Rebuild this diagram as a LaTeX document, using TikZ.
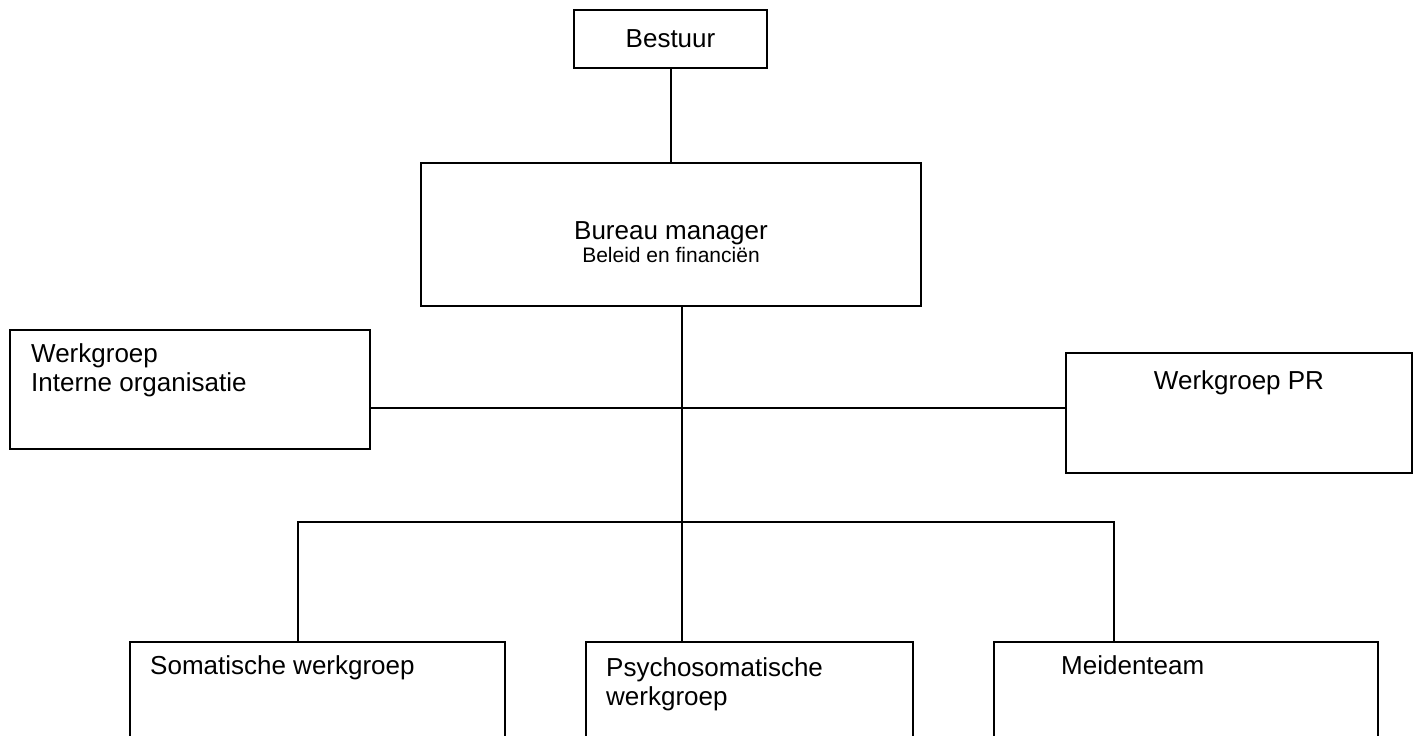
\documentclass[tikz,border=0pt]{standalone}
\usepackage{fontspec}
\setmainfont{Liberation Sans}
\usetikzlibrary{positioning}
\tikzstyle{unit} = [rectangle, draw=black, line width=2pt, inner sep=0pt]
\tikzstyle{lbl} = [inner sep=0pt, font=\fontsize{26}{29}\selectfont, align=left]
\tikzstyle{link} = [line width=2pt]

\begin{document}
\begin{tikzpicture}[x=1pt, y=-1pt]
    \clip (0,0) rectangle (1419,736);
    % top of the chart
    \node (bestuur) [unit, minimum width=193pt, minimum height=58pt, font=\fontsize{26}{29}\selectfont] at (670.5,39) {Bestuur};
    \node (bureau) [unit, minimum width=500pt, minimum height=143pt] at (671,234.5) {};
    % side groups
    \node (intern) [unit, minimum width=360pt, minimum height=119pt] at (190,389.5) {};
    \node (pr) [unit, minimum width=346pt, minimum height=120pt] at (1239,413) {};
    % teams
    \node (soma) [unit, minimum width=375pt, minimum height=140pt] at (317.5,712) {};
    \node (psycho) [unit, minimum width=327pt, minimum height=140pt] at (749.5,712) {};
    \node (meiden) [unit, minimum width=384pt, minimum height=140pt] at (1186,712) {};

    \node (bureautxt) [lbl, align=center, font=\fontsize{26}{23}\selectfont, anchor=base] at ([shift={(0,100)}]bureau.north) {Bureau manager\\{\fontsize{21}{23}\selectfont Beleid en financiën}};
    \node (interntxt) [lbl, anchor=base west] at ([shift={(22,62)}]intern.north west) {Werkgroep\\Interne organisatie};
    \node (prtxt) [lbl, anchor=base] at ([shift={(0,37)}]pr.north) {Werkgroep PR};
    \node (somatxt) [lbl, anchor=base west] at ([shift={(21,33)}]soma.north west) {Somatische werkgroep};
    \node (psychotxt) [lbl, anchor=base west] at ([shift={(21,64)}]psycho.north west) {Psychosomatische\\werkgroep};
    \node (meidentxt) [lbl, anchor=base west] at ([shift={(68,33)}]meiden.north west) {Meidenteam};

    \coordinate (stem) at (682,522);
    \coordinate (side) at (682,408);
    \coordinate (lft) at (298,522);
    \coordinate (rgt) at (1114,522);

    \draw [link] (bestuur.south) -- (bestuur.south |- bureau.north);
    \draw [link] (stem |- bureau.south) -- (stem |- psycho.north);
    \draw [link] (intern.east |- side) -- (pr.west |- side);
    \draw [link] (lft |- soma.north) -- (lft) -- (rgt) -- (rgt |- meiden.north);
\end{tikzpicture}
\end{document}
